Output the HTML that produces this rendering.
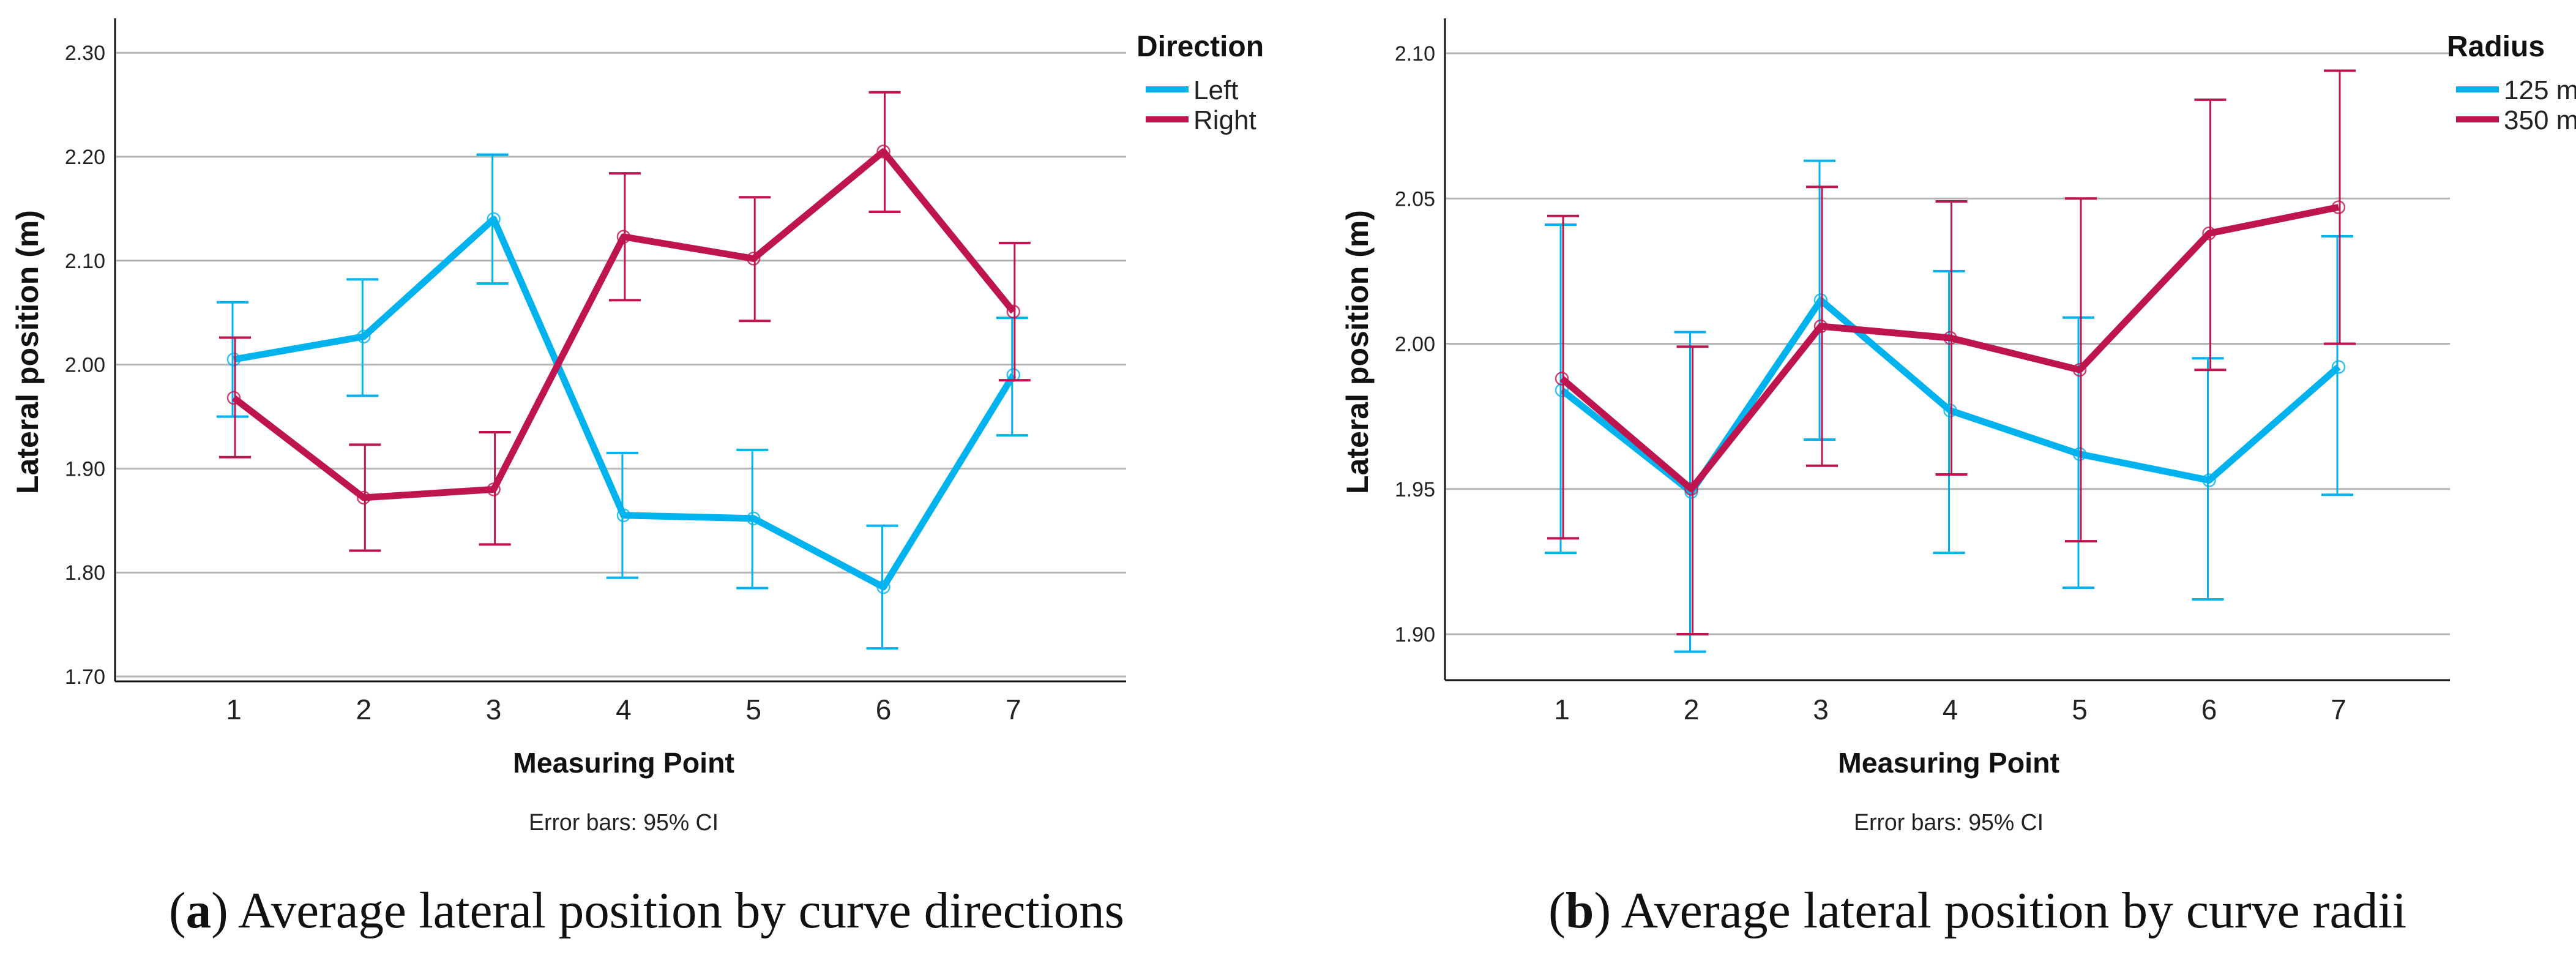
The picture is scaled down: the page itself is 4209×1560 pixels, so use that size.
<!DOCTYPE html>
<html><head><meta charset="utf-8">
<style>
html,body{margin:0;padding:0;background:#fff;}
svg{display:block;}
text{font-family:"Liberation Sans Narrow","Liberation Sans",sans-serif;}
</style></head>
<body>
<svg id="fig" width="4209" height="1560" viewBox="0 0 4209 1560" xmlns="http://www.w3.org/2000/svg"></svg>
<script>
// ---- Chart (a) data ----
const categoriesA = ["1","2","3","4","5","6","7"];
const leftMean  = [2.005,2.027,2.140,1.855,1.852,1.786,1.990];
const leftLow   = [1.950,1.970,2.078,1.795,1.785,1.727,1.932];
const leftHigh  = [2.060,2.082,2.202,1.915,1.918,1.845,2.045];
const rightMean = [1.968,1.872,1.880,2.123,2.102,2.205,2.051];
const rightLow  = [1.911,1.821,1.827,2.062,2.042,2.147,1.985];
const rightHigh = [2.026,1.923,1.935,2.184,2.161,2.262,2.117];
const ticksA = ["1.70","1.80","1.90","2.00","2.10","2.20","2.30"];
const seriesNamesA = ["Left","Right"];
// ---- Chart (b) data ----
const categoriesB = ["1","2","3","4","5","6","7"];
const r125Mean = [1.984,1.949,2.015,1.977,1.962,1.953,1.992];
const r125Low  = [1.928,1.894,1.967,1.928,1.916,1.912,1.948];
const r125High = [2.041,2.004,2.063,2.025,2.009,1.995,2.037];
const r350Mean = [1.988,1.950,2.006,2.002,1.991,2.038,2.047];
const r350Low  = [1.933,1.900,1.958,1.955,1.932,1.991,2.000];
const r350High = [2.044,1.999,2.054,2.049,2.050,2.084,2.094];
const ticksB = ["1.90","1.95","2.00","2.05","2.10"];
const seriesNamesB = ["125 m","350 m"];

const NS = "http://www.w3.org/2000/svg";
const svg = document.getElementById("fig");
const BLUE = "#00b2ee", RED = "#be1450";

function mk(tag, attrs, parent, txt){
  const e = document.createElementNS(NS, tag);
  for (const k in attrs) e.setAttribute(k, attrs[k]);
  if (txt !== undefined) e.textContent = txt;
  (parent || svg).appendChild(e);
  return e;
}

function drawChart(cfg){
  const g = mk("g", {});
  
  
  const y = v => cfg.y0 + (v - cfg.v0) * cfg.ppu;
  const x = i => cfg.cx0 + i * cfg.step;
  // gridlines & y tick labels
  cfg.ticks.forEach(t => {
    const yy = y(parseFloat(t));
    const gl = mk("line", {x1: cfg.axL+2, x2: cfg.axR, y1: yy, y2: yy, stroke: "#b4b4b4", "stroke-width": 3}, g);
    
    
    const tl = mk("text", {x: cfg.axL - 16, y: yy + 12, "text-anchor": "end", "font-size": 34, fill: "#222"}, g, t);
    
    
  });
  // axes
  const ya = mk("line", {x1: cfg.axL, x2: cfg.axL, y1: 30, y2: cfg.axB, stroke: "#111", "stroke-width": 3}, g);
  
  
  const xa = mk("line", {x1: cfg.axL, x2: cfg.axR, y1: cfg.axB, y2: cfg.axB, stroke: "#111", "stroke-width": 3}, g);
  
  
  // x tick labels
  cfg.cats.forEach((c, i) => {
    const t = mk("text", {x: x(i), y: 1175, "text-anchor": "middle", "font-size": 46, fill: "#222"}, g, c);
    
    
  });
  // series
  cfg.series.forEach((s, si) => {
    const sg = mk("g", {}, g);
    
    
    s.low.forEach((lo, i) => {
      const xx = x(i) + (si === 0 ? -2 : 2);
      const bar = mk("line", {x1: xx, x2: xx, y1: y(lo), y2: y(s.high[i]), stroke: s.color, "stroke-width": 3}, sg);
      
      
      [lo, s.high[i]].forEach(v => {
        const cap = mk("line", {x1: xx - 26, x2: xx + 26, y1: y(v), y2: y(v), stroke: s.color, "stroke-width": 4}, sg);
        
        
      });
    });
    const pts = s.mean.map((v, i) => x(i) + "," + y(v)).join(" ");
    const pl = mk("polyline", {points: pts, fill: "none", stroke: s.color, "stroke-width": 11, "stroke-linejoin": "round"}, sg);
    
    
    s.mean.forEach((v, i) => {
      const c = mk("circle", {cx: x(i), cy: y(v), r: 10, fill: "none", stroke: s.color, "stroke-width": 2.5, opacity: 0.8}, sg);
      
      
    });
  });
  // axis titles
  const yt = mk("text", {x: 0, y: 0, transform: "translate(" + cfg.ytX + ",575) rotate(-90)", "text-anchor": "middle", "font-size": 50, "font-weight": "bold", fill: "#111", style: "font-family:'Liberation Sans',sans-serif"}, g, "Lateral position (m)");
  
  
  const xt = mk("text", {x: cfg.midX, y: 1262, "text-anchor": "middle", "font-size": 46, "font-weight": "bold", fill: "#111", textLength: 362, lengthAdjust: "spacingAndGlyphs"}, g, "Measuring Point");
  
  
  const eb = mk("text", {x: cfg.midX, y: 1356, "text-anchor": "middle", "font-size": 38, fill: "#222", textLength: 310, lengthAdjust: "spacingAndGlyphs"}, g, "Error bars: 95% CI");
  
  
  // legend
  const lg = mk("g", {}, g);
  
  
  const lt = mk("text", {x: cfg.legX, y: 92, "font-size": 48, "font-weight": "bold", fill: "#111"}, lg, cfg.legTitle);
  
  
  cfg.series.forEach((s, si) => {
    const yy = 146 + si * 49;
    const sw = mk("line", {x1: cfg.legX + 15, x2: cfg.legX + 85, y1: yy, y2: yy, stroke: s.color, "stroke-width": 10}, lg);
    
    
    const tx = mk("text", {x: cfg.legX + 93, y: yy + 16, "font-size": 44, fill: "#222"}, lg, s.label);
    
    
  });
  // caption
  const cap = mk("text", {x: cfg.capX, y: 1515, "font-size": 84, fill: "#111", textLength: cfg.capW, lengthAdjust: "spacingAndGlyphs", style: "font-family:'Liberation Serif',serif"}, g);
  
  
  mk("tspan", {}, cap, "(");
  mk("tspan", {"font-weight": "bold"}, cap, cfg.letter);
  mk("tspan", {}, cap, ") " + cfg.capText);
}

drawChart({
  name: "chart-a-direction", cats: categoriesA, ticks: ticksA,
  v0: 1.70, y0: 1105, ppu: -1698, axL: 188, axR: 1840, axB: 1113,
  cx0: 382, step: 212.3, ytX: 62, midX: 1019, legX: 1857, legTitle: "Direction",
  series: [
    {key: "left", label: seriesNamesA[0], color: BLUE, mean: leftMean, low: leftLow, high: leftHigh},
    {key: "right", label: seriesNamesA[1], color: RED, mean: rightMean, low: rightLow, high: rightHigh}
  ],
  capX: 276, capW: 1561, letter: "a", capText: "Average lateral position by curve directions"
});
drawChart({
  name: "chart-b-radius", cats: categoriesB, ticks: ticksB,
  v0: 1.90, y0: 1036, ppu: -4745, axL: 2361, axR: 4003, axB: 1111,
  cx0: 2552, step: 211.5, ytX: 2235, midX: 3184, legX: 3998, legTitle: "Radius",
  series: [
    {key: "125m", label: seriesNamesB[0], color: BLUE, mean: r125Mean, low: r125Low, high: r125High},
    {key: "350m", label: seriesNamesB[1], color: RED, mean: r350Mean, low: r350Low, high: r350High}
  ],
  capX: 2530, capW: 1402, letter: "b", capText: "Average lateral position by curve radii"
});
</script>
</body></html>
